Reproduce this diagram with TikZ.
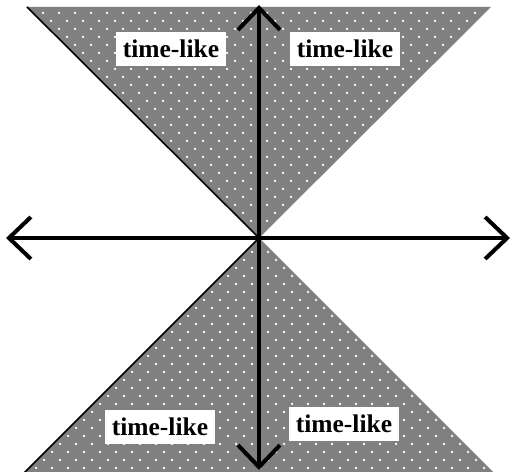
\documentclass[tikz,border=0pt]{standalone}
\usepackage{fontspec}
\setmainfont{Liberation Serif}
\usetikzlibrary{arrows.meta}
\usetikzlibrary{patterns}

\pgfdeclarepatternformonly{sparsedots}{\pgfpointorigin}{\pgfqpoint{9.1pt}{9.1pt}}{\pgfqpoint{9.1pt}{9.1pt}}{%
  \pgfpathcircle{\pgfqpoint{2.3pt}{2.3pt}}{0.75pt}
  \pgfpathcircle{\pgfqpoint{6.85pt}{6.85pt}}{0.75pt}
  \pgfusepath{fill}}

\tikzset{
  cone/.style={fill=black!50},
  conedots/.style={pattern=sparsedots,pattern color=white},
  axis/.style={line width=2.3pt,{Straight Barb[length=4.4mm,width=8.4mm]}-{Straight Barb[length=4.4mm,width=8.4mm]}},
  lbl/.style={fill=white,inner xsep=4pt,inner ysep=4.5pt,font=\bfseries\fontsize{14.5}{16}\selectfont}
}

\begin{document}
\begin{tikzpicture}[x=0.02cm,y=0.02cm]
  \useasboundingbox (-259,-234) rectangle (254,238);
  \clip (-259,-234) rectangle (254,238);
  % light cones
  \fill[cone] (0,0) -- (-232,231) -- (232,231) -- cycle;
  \fill[cone] (0,0) -- (-245,-245) -- (245,-245) -- cycle;
  \fill[conedots] (0,0) -- (-232,231) -- (232,231) -- cycle;
  \fill[conedots] (0,0) -- (-245,-245) -- (245,-245) -- cycle;
  \draw[line width=0.9pt] (-232,231) -- (0,0) -- (-245,-245);
  % axes
  \coordinate (west) at (-253,0);
  \coordinate (east) at (251,0);
  \coordinate (north) at (0,233);
  \coordinate (south) at (0,-232);
  \draw[axis] (west) -- (east);
  \draw[axis] (south) -- (north);
  % labels
  \node[lbl] (tl) at (-88,189) {time-like};
  \node[lbl] (tr) at (86,189) {time-like};
  \node[lbl] (bl) at (-99,-189) {time-like};
  \node[lbl] (br) at (85,-186) {time-like};
\end{tikzpicture}
\end{document}
